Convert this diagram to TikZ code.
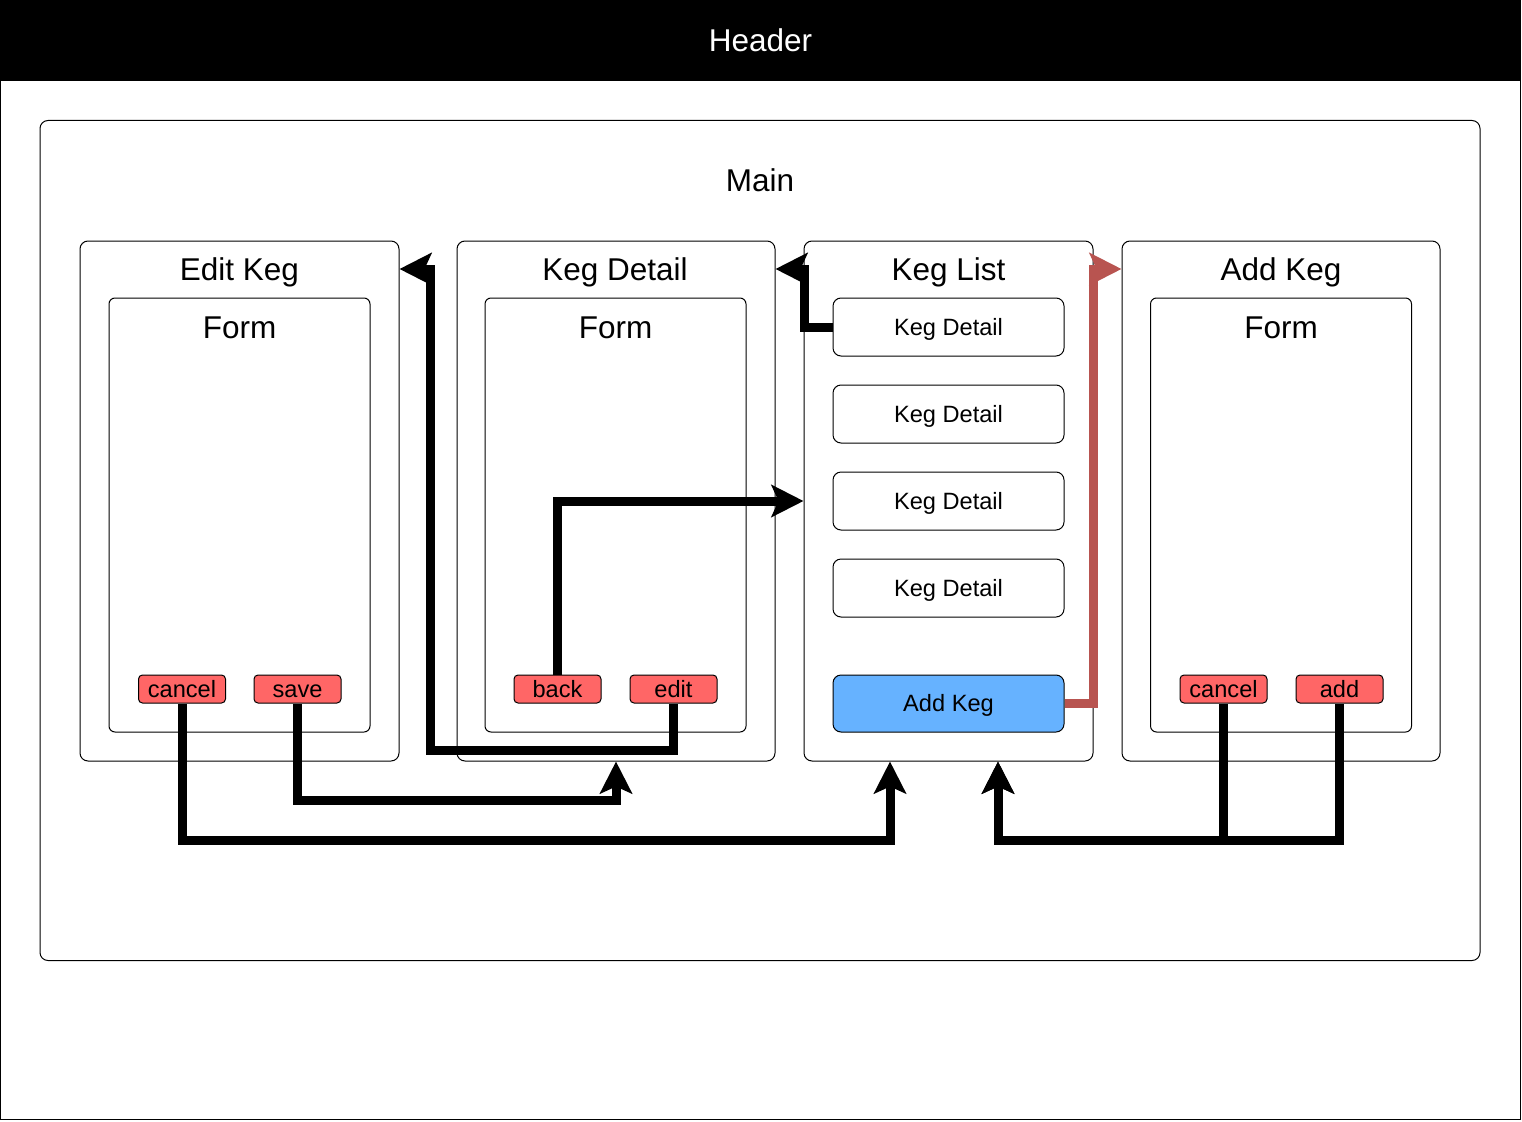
\documentclass[tikz,border=0pt]{standalone}
\usepackage{fontspec}
\setmainfont{Liberation Sans}
\usepackage{xcolor}
\usetikzlibrary{arrows.meta}
\usetikzlibrary{positioning}
\definecolor{btnred}{HTML}{FF6666}
\definecolor{btnblue}{HTML}{66B2FF}
\definecolor{flowred}{HTML}{B85450}
\tikzstyle{line} = [draw, line width=9pt, -{Stealth[length=32pt,width=32pt,inset=7pt]}]
\newcommand{\bigtext}{\fontsize{31.5}{36}\selectfont}
\newcommand{\smalltext}{\fontsize{23.6}{28}\selectfont}

\begin{document}
\begin{tikzpicture}[x=1pt, y=-1pt,
		bigtxt/.style={font=\bigtext, text height=24pt, text depth=1.4pt},
		smalltxt/.style={font=\smalltext, text height=18pt, text depth=1.1pt},
		panel/.style={draw, rounded corners=8pt, line width=1pt, inner sep=0pt,
		minimum height=520pt},
		form/.style={draw, rounded corners=6pt, line width=1pt, inner sep=0pt,
		minimum width=261pt, minimum height=434pt},
		btn/.style={draw, fill=btnred, rounded corners=4pt, line width=1pt,
		inner sep=0pt, minimum width=87pt, minimum height=28pt, smalltxt},
		item/.style={draw, rounded corners=8pt, line width=1pt, inner sep=0pt,
		minimum width=231pt, minimum height=58pt, smalltxt},
		title/.style={inner sep=0pt, bigtxt}]
		\useasboundingbox (0,0) rectangle (1522,1121);
		\node [draw, line width=1pt, minimum width=1520pt, minimum height=1119pt,
		inner sep=0pt, outer sep=0pt, anchor=north west] (page) at (0.5,0.5) {};
		\node [draw, fill=black, minimum width=1520pt, minimum height=80pt,
		inner sep=0pt, outer sep=0pt, anchor=north west, text=white, bigtxt] (header) at (0.5,0.5) {Header};
		%% Main area
		\node [draw, rounded corners=8pt, line width=1pt, minimum width=1440pt,
		minimum height=840pt] (main) at (760,540.5) {};
		\node [title] (mainT) at (760,180) {Main};
		%% Panels
		\node [panel, minimum width=319pt] (editk) at (239.5,501) {};
		\node [panel, minimum width=318pt] (kdet) at (616,501) {};
		\node [panel, minimum width=289pt] (list) at (948.5,501) {};
		\node [panel, minimum width=318pt] (addk) at (1281,501) {};
		\node [title] (editkT) at (239.5,269) {Edit Keg};
		\node [title] (kdetT) at (615,269) {Keg Detail};
		\node [title] (listT) at (948.5,269) {Keg List};
		\node [title] (addkT) at (1281,269) {Add Keg};
		%% Forms
		\node [form] (editF) at (239.5,515) {};
		\node [form] (kdetF) at (615.5,515) {};
		\node [form] (addF) at (1281,515) {};
		\node [title] (editFT) at (239.5,327) {Form};
		\node [title] (kdetFT) at (615.5,327) {Form};
		\node [title] (addFT) at (1281,327) {Form};
		%% Buttons
		\node [btn] (cancelE) at (182,689) {cancel};
		\node [btn] (save) at (297.5,689) {save};
		\node [btn] (back) at (557.5,689) {back};
		\node [btn] (edit) at (673.5,689) {edit};
		\node [btn] (cancelA) at (1223.5,689) {cancel};
		\node [btn] (add) at (1339.5,689) {add};
		%% List items
		\node [item] (item1) at (948.5,327) {Keg Detail};
		\node [item, below=28pt of item1] (item2) {Keg Detail};
		\node [item, below=28pt of item2] (item3) {Keg Detail};
		\node [item, below=28pt of item3] (item4) {Keg Detail};
		\node [item, fill=btnblue, minimum height=57pt] (addBtn) at (948.5,703.5) {Add Keg};
		%% Flows
		\path [line] (save.south) -- (save.south |- 0,800) -| (kdet.south);
		\path [line] (cancelE.south) -- (cancelE.south |- 0,840) -| ([xshift=-58.5pt]list.south);
		\path [line] (edit.south) -- (edit.south |- 0,750) -| (430,269) -- (editk.east |- 0,269);
		\path [line] (back.north) -- (back.north |- list.west) -- (list.west);
		\path [line] (item1.west) -| (804,269) -- (kdet.east |- 0,269);
		\path [line, draw=flowred] (addBtn.east) -| (1093,269) -- (addk.west |- 0,269);
		\path [line] (cancelA.south) -- (cancelA.south |- 0,840) -| ([xshift=49.5pt]list.south);
		\path [line] (add.south) -- (add.south |- 0,840) -| ([xshift=49.5pt]list.south);
	\end{tikzpicture}
\end{document}
